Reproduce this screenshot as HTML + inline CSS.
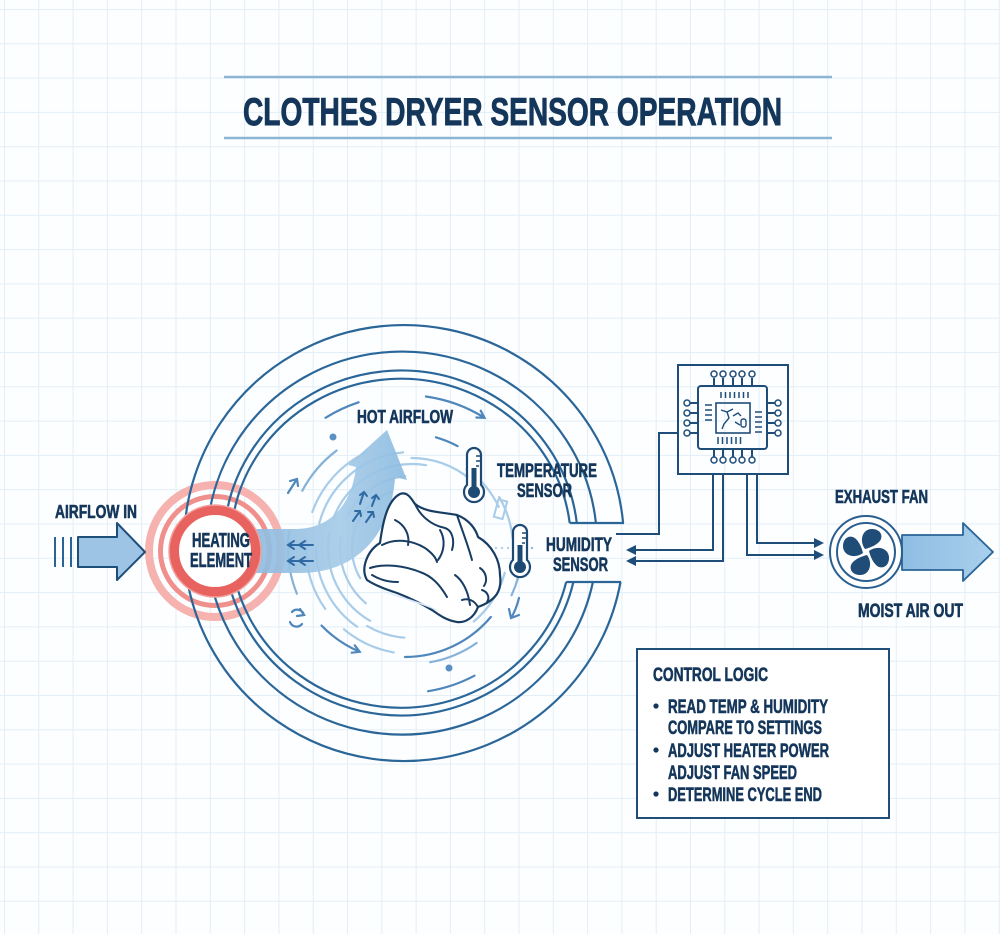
<!DOCTYPE html>
<html><head><meta charset="utf-8"><style>
html,body{margin:0;padding:0;background:#fcfeff;}
svg{display:block;}
text{font-family:"Liberation Sans",Arial,sans-serif;font-weight:bold;fill:#14365a;stroke:#14365a;stroke-width:0.6;paint-order:stroke;}
</style></head><body>
<svg width="1000" height="934" viewBox="0 0 1000 934" xmlns="http://www.w3.org/2000/svg">
<defs>
<pattern id="g" x="4" y="9" width="34.3" height="34.3" patternUnits="userSpaceOnUse">
<path d="M0 0.5H34.3M0.5 0V34.3" stroke="#e3eef7" stroke-width="1" fill="none"/>
</pattern>
<linearGradient id="band" x1="0" y1="0" x2="1" y2="0">
<stop offset="0" stop-color="#8ab8de"/><stop offset="0.6" stop-color="#a6cbe8"/><stop offset="1" stop-color="#8dbbe0"/>
</linearGradient>
<linearGradient id="exh" x1="0" y1="0" x2="1" y2="0">
<stop offset="0" stop-color="#8fbde2"/><stop offset="1" stop-color="#a9cfec"/>
</linearGradient>
</defs>
<rect width="1000" height="934" fill="#fcfeff"/>
<rect width="1000" height="934" fill="url(#g)"/>

<!-- title -->
<line x1="224" y1="77" x2="832" y2="77" stroke="#8db6d6" stroke-width="2.5"/>
<line x1="224" y1="138" x2="832" y2="138" stroke="#8db6d6" stroke-width="2.5"/>
<text x="243" y="125" font-size="39" textLength="539" lengthAdjust="spacingAndGlyphs" style="stroke-width:0.9">CLOTHES DRYER SENSOR OPERATION</text>

<!-- heating outer red rings -->
<circle cx="215" cy="551" r="66" fill="none" stroke="#f6b2af" stroke-width="8"/>
<circle cx="215" cy="551" r="54.5" fill="none" stroke="#f0908d" stroke-width="5"/>

<!-- drum rings -->
<g fill="none" stroke="#2b6699" stroke-width="2.2">
<path d="M623.1 523 A220 218 0 1 0 620.5 582"/>
<path d="M595.9 523 A195 191.5 0 1 0 592.9 582"/>
<path d="M576.8 523 A177 172.5 0 1 0 573.4 582"/>
<path d="M569.7 523 A170 164.5 0 1 0 566.2 582"/>
<path d="M569.7 523 H624 M566.2 582 H621"/>
</g>

<!-- light swirl arcs -->
<g fill="none" stroke="#a9cce8" stroke-width="2.2" stroke-linecap="round">
<circle cx="412" cy="548" r="60" pathLength="360" stroke-dasharray="0 150 100 360"/>
<circle cx="412" cy="548" r="72" pathLength="360" stroke-dasharray="0 130 60 15 60 360"/>
<circle cx="412" cy="548" r="84" pathLength="360" stroke-dasharray="0 20 40 60 70 10 80 360"/>
<circle cx="412" cy="548" r="96" pathLength="360" stroke-dasharray="0 15 35 75 55 15 70 40 30 360"/>
<circle cx="412" cy="548" r="106" pathLength="360" stroke-dasharray="0 100 30 15 40 15 45 360"/>
<circle cx="412" cy="548" r="90" pathLength="360" stroke-dasharray="0 95 25 150 40 360"/>
<circle cx="412" cy="548" r="101" pathLength="360" stroke-dasharray="0 330 25 360"/>
</g>
<g fill="none" stroke="#86b2d8" stroke-width="2.2" stroke-linecap="round">
<circle cx="410" cy="548" r="122" pathLength="360" stroke-dasharray="0 158 30 20 25 360"/>
<circle cx="410" cy="548" r="112" pathLength="360" stroke-dasharray="0 5 20 360"/>
<circle cx="410" cy="548" r="116" pathLength="360" stroke-dasharray="0 55 25 360"/>
</g>

<!-- medium arcs -->
<g fill="none" stroke="#4f86bb" stroke-width="2.2" stroke-linecap="round">
<path d="M325.5 417.8 A150 150 0 0 1 358.6 402.3"/>
<path d="M425.9 396.5 A150 150 0 0 1 484.5 417.8 M480.7 410.7 L484.5 417.8 L476.4 417.5"/>
<path d="M435.9 437.3 A112 112 0 0 1 457.6 446.1"/>
<path d="M321.6 625.6 A116 116 0 0 0 359.7 651.8 M354.8 645.4 L359.7 651.8 L351.7 652.7"/>
<path d="M405 657 A112 112 0 0 0 490.8 617"/>
<path d="M428.1 691.2 A148 148 0 0 0 474.5 675.7"/>
<path d="M519 598 Q516 610 511 618 M509 609 L511 618 L519 615"/>
<path d="M288 493 L297 479 M290 481 L297 479 L298 486"/>
<path d="M292 612 A7 7 0 0 1 304 615 M290 622 A7 7 0 0 0 302 624 M300 609 L304 615 L297 616"/>
</g>
<circle cx="333" cy="437" r="3.5" fill="#5b90c2"/>
<circle cx="449" cy="668" r="3.5" fill="#5b90c2"/>
<rect x="496" y="500" width="9" height="18" fill="none" stroke="#a9cce8" stroke-width="2" transform="rotate(15 500 509)"/>

<!-- hot airflow band -->
<path d="M240 529 L295 529 C330 529 352 505 356 467 L348 465 L387 430 L407 480 L395 477 C392 530 360 573 300 573 L240 573 Z" fill="url(#band)" opacity="0.92"/>
<g stroke="#2f6aa3" stroke-width="2" fill="none" stroke-linecap="round">
<path d="M313 545 H288 M294 541 L288 545 L294 549 M305 541 L299 545 L305 549"/>
<path d="M313 561 H288 M294 557 L288 561 L294 565 M305 557 L299 561 L305 565"/>
<path d="M353 521 L360 511 M355 511 L360 511 L361 516"/>
<path d="M366 522 L373 512 M368 512 L373 512 L374 517"/>
<path d="M360 504 L364 492 M360 495 L364 492 L367 496"/>
<path d="M372 506 L376 495 M372 498 L376 495 L379 499"/>
</g>

<!-- heating element inner -->
<circle cx="215" cy="551" r="41" fill="#ffffff" stroke="#e8625f" stroke-width="10"/>
<circle cx="215" cy="551" r="46" fill="none" stroke="#f2a09d" stroke-width="1.5"/>
<text x="192" y="547" font-size="20" textLength="58" lengthAdjust="spacingAndGlyphs">HEATING</text>
<text x="190" y="567" font-size="20" textLength="62" lengthAdjust="spacingAndGlyphs">ELEMENT</text>

<!-- clothes -->
<path d="M367 580 C360 568 368 550 380 543 C383 520 388 500 400 494 C408 491 412 500 415 504 C425 512 440 512 457 515 C470 520 476 530 478 537 C492 545 500 560 500 575 C502 590 497 600 478 607 C474 618 465 623 457 622 C445 620 438 614 432 610 C422 604 410 598 397 593 C388 590 376 586 367 580 Z" fill="#ffffff" stroke="#183d63" stroke-width="2.2" stroke-linejoin="round"/>
<path d="M380 590 C395 597 420 603 440 612 C430 604 405 598 380 590 Z" fill="#d4e6f5"/>
<g fill="none" stroke="#183d63" stroke-width="2" stroke-linecap="round">
<path d="M382 545 C395 538 412 540 425 548 C432 553 436 558 437 562"/>
<path d="M370 568 C385 563 405 566 420 572 C432 576 440 585 447 597"/>
<path d="M415 504 C420 515 430 525 445 528 C452 530 455 540 452 550"/>
<path d="M457 515 C462 530 468 545 472 560"/>
<path d="M480 568 C486 572 488 580 484 586 M482 590 C488 592 490 598 487 602"/>
<path d="M478 607 C474 600 468 598 462 600"/>
<path d="M395 520 C405 525 410 535 408 545"/>
<path d="M440 530 C446 540 444 552 438 560"/>
<path d="M455 575 C462 580 468 590 470 605"/>
<path d="M372 575 C380 580 388 582 398 582"/>
</g>

<!-- thermometers -->
<g stroke="#1d4a75" stroke-width="2.2">
<path d="M467 484.9 V455 A7 7 0 0 1 481 455 V484.9 A10 10 0 1 1 467 484.9 Z" fill="#ffffff"/>
<path d="M513 559.9 V532 A7 7 0 0 1 527 532 V559.9 A10 10 0 1 1 513 559.9 Z" fill="#ffffff"/>
<path d="M476 456 H480 M476 461 H480 M476 466 H479 M522 533 H526 M522 538 H526 M522 543 H525" stroke-width="1.5"/>
</g>
<g fill="#1d4a75">
<rect x="471.5" y="468" width="5" height="20"/><circle cx="474" cy="492" r="6"/>
<rect x="517.5" y="545" width="5" height="18"/><circle cx="520" cy="567" r="6"/>
</g>

<!-- labels -->
<text x="357" y="423" font-size="18" textLength="96" lengthAdjust="spacingAndGlyphs">HOT AIRFLOW</text>
<text x="497" y="477" font-size="19" textLength="100" lengthAdjust="spacingAndGlyphs">TEMPERATURE</text>
<text x="517" y="497" font-size="19" textLength="55" lengthAdjust="spacingAndGlyphs">SENSOR</text>
<text x="546" y="551" font-size="19" textLength="66" lengthAdjust="spacingAndGlyphs">HUMIDITY</text>
<text x="553" y="571" font-size="19" textLength="55" lengthAdjust="spacingAndGlyphs">SENSOR</text>
<text x="55" y="518" font-size="18" textLength="82" lengthAdjust="spacingAndGlyphs">AIRFLOW IN</text>
<text x="835" y="503" font-size="18" textLength="93" lengthAdjust="spacingAndGlyphs">EXHAUST FAN</text>
<text x="858" y="617" font-size="19" textLength="105" lengthAdjust="spacingAndGlyphs">MOIST AIR OUT</text>

<!-- airflow in -->
<g stroke="#2a6496" stroke-width="2"><path d="M55 537 V567 M63 537 V567 M71 537 V567"/></g>
<polygon points="78,537 117,537 117,523 145,552 117,580 117,567 78,567" fill="#9dc4e4" stroke="#1f4e79" stroke-width="2" stroke-linejoin="round"/>

<!-- chip -->
<g fill="none" stroke="#1f4d7a" stroke-width="2">
<rect x="678" y="365" width="110" height="109"/>
<rect x="698" y="386" width="69" height="63" rx="3"/>
<rect x="716" y="403" width="34" height="30" stroke-width="1.6"/>
<path d="M714 378V386M723 378V386M733 378V386M742 378V386M752 378V386"/>
<path d="M714 449V457M723 449V457M733 449V457M742 449V457M752 449V457"/>
<path d="M690 403H698M690 413H698M690 423H698M690 433H698"/>
<path d="M767 403H775M767 413H775M767 423H775M767 433H775"/>
<path d="M721 392V398M725.5 392V398M730 392V398M734.5 392V398M739 392V398M743.5 392V398M748 392V398" stroke-width="1.5"/>
<path d="M718 437V444M722.5 437V444M727 437V444M731.5 437V444M736 437V444M740.5 437V444" stroke-width="1.5"/>
<path d="M705 405H712M705 410H712M705 415H712M705 420H712" stroke-width="1.5"/>
<path d="M755 412H762M755 417H762M755 422H762M755 427H762M755 432H762" stroke-width="1.5"/>
<path d="M721 410 L727 412 L733 409 M727 412 L729 418 L724 424 L722 429 M733 416 L738 413 L741 416 M735 422 L740 425" stroke-width="1.4"/>
<rect x="741" y="419" width="5" height="8" rx="2" stroke-width="1.4"/>
</g>
<g fill="#ffffff" stroke="#1f4d7a" stroke-width="1.5">
<circle cx="714" cy="374" r="3"/><circle cx="723" cy="374" r="3"/><circle cx="733" cy="374" r="3"/><circle cx="742" cy="374" r="3"/><circle cx="752" cy="374" r="3"/>
<circle cx="714" cy="460" r="3"/><circle cx="723" cy="460" r="3"/><circle cx="733" cy="460" r="3"/><circle cx="742" cy="460" r="3"/><circle cx="752" cy="460" r="3"/>
<circle cx="687" cy="403" r="3"/><circle cx="687" cy="413" r="3"/><circle cx="687" cy="423" r="3"/><circle cx="687" cy="433" r="3"/>
<circle cx="778" cy="403" r="3"/><circle cx="778" cy="413" r="3"/><circle cx="778" cy="423" r="3"/><circle cx="778" cy="433" r="3"/>
</g>

<!-- connectors -->
<g fill="none" stroke="#1f4d7a" stroke-width="2">
<path d="M678 433 H659 V534 H616"/>
<path d="M713 474 V550 H634"/>
<path d="M723 474 V561 H634"/>
<path d="M747 474 V555 H815"/>
<path d="M757 474 V543 H815"/>
</g>
<g fill="#1f4d7a">
<polygon points="626,550 636,545 636,555"/>
<polygon points="626,561 636,556 636,566"/>
<polygon points="824,543 814,538 814,548"/>
<polygon points="824,555 814,550 814,560"/>
</g>

<!-- exhaust arrow -->
<polygon points="902,535 963,535 963,523 993,552 963,581 963,570 902,570" fill="url(#exh)" stroke="#2a6496" stroke-width="1.8" stroke-linejoin="round"/>
<!-- fan -->
<circle cx="866" cy="552" r="36" fill="#ffffff" stroke="#2a5f8f" stroke-width="2"/>
<circle cx="866" cy="552" r="29" fill="#ffffff" stroke="#2a5f8f" stroke-width="2"/>
<g fill="#1f4d78" transform="translate(866 552)">
<path d="M-1 -3 C-7 -11 -4 -23 6 -23 C15 -23 18 -15 13 -10 C9 -6 3 -4 -1 -3 Z"/>
<path d="M-1 -3 C-7 -11 -4 -23 6 -23 C15 -23 18 -15 13 -10 C9 -6 3 -4 -1 -3 Z" transform="rotate(90)"/>
<path d="M-1 -3 C-7 -11 -4 -23 6 -23 C15 -23 18 -15 13 -10 C9 -6 3 -4 -1 -3 Z" transform="rotate(180)"/>
<path d="M-1 -3 C-7 -11 -4 -23 6 -23 C15 -23 18 -15 13 -10 C9 -6 3 -4 -1 -3 Z" transform="rotate(270)"/>
</g>

<!-- control logic -->
<rect x="637" y="649" width="252" height="169" fill="#ffffff" stroke="#1f4e79" stroke-width="2"/>
<text x="653" y="681" font-size="19" textLength="115" lengthAdjust="spacingAndGlyphs">CONTROL LOGIC</text>
<g fill="#14365a"><circle cx="656" cy="706" r="2.6"/><circle cx="656" cy="750" r="2.6"/><circle cx="656" cy="794" r="2.6"/></g>
<text x="668" y="713" font-size="19" textLength="160" lengthAdjust="spacingAndGlyphs">READ TEMP &amp; HUMIDITY</text>
<text x="668" y="734" font-size="19" textLength="154" lengthAdjust="spacingAndGlyphs">COMPARE TO SETTINGS</text>
<text x="668" y="757" font-size="19" textLength="161" lengthAdjust="spacingAndGlyphs">ADJUST HEATER POWER</text>
<text x="668" y="779" font-size="19" textLength="129" lengthAdjust="spacingAndGlyphs">ADJUST FAN SPEED</text>
<text x="668" y="801" font-size="19" textLength="154" lengthAdjust="spacingAndGlyphs">DETERMINE CYCLE END</text>
</svg>
</body></html>
